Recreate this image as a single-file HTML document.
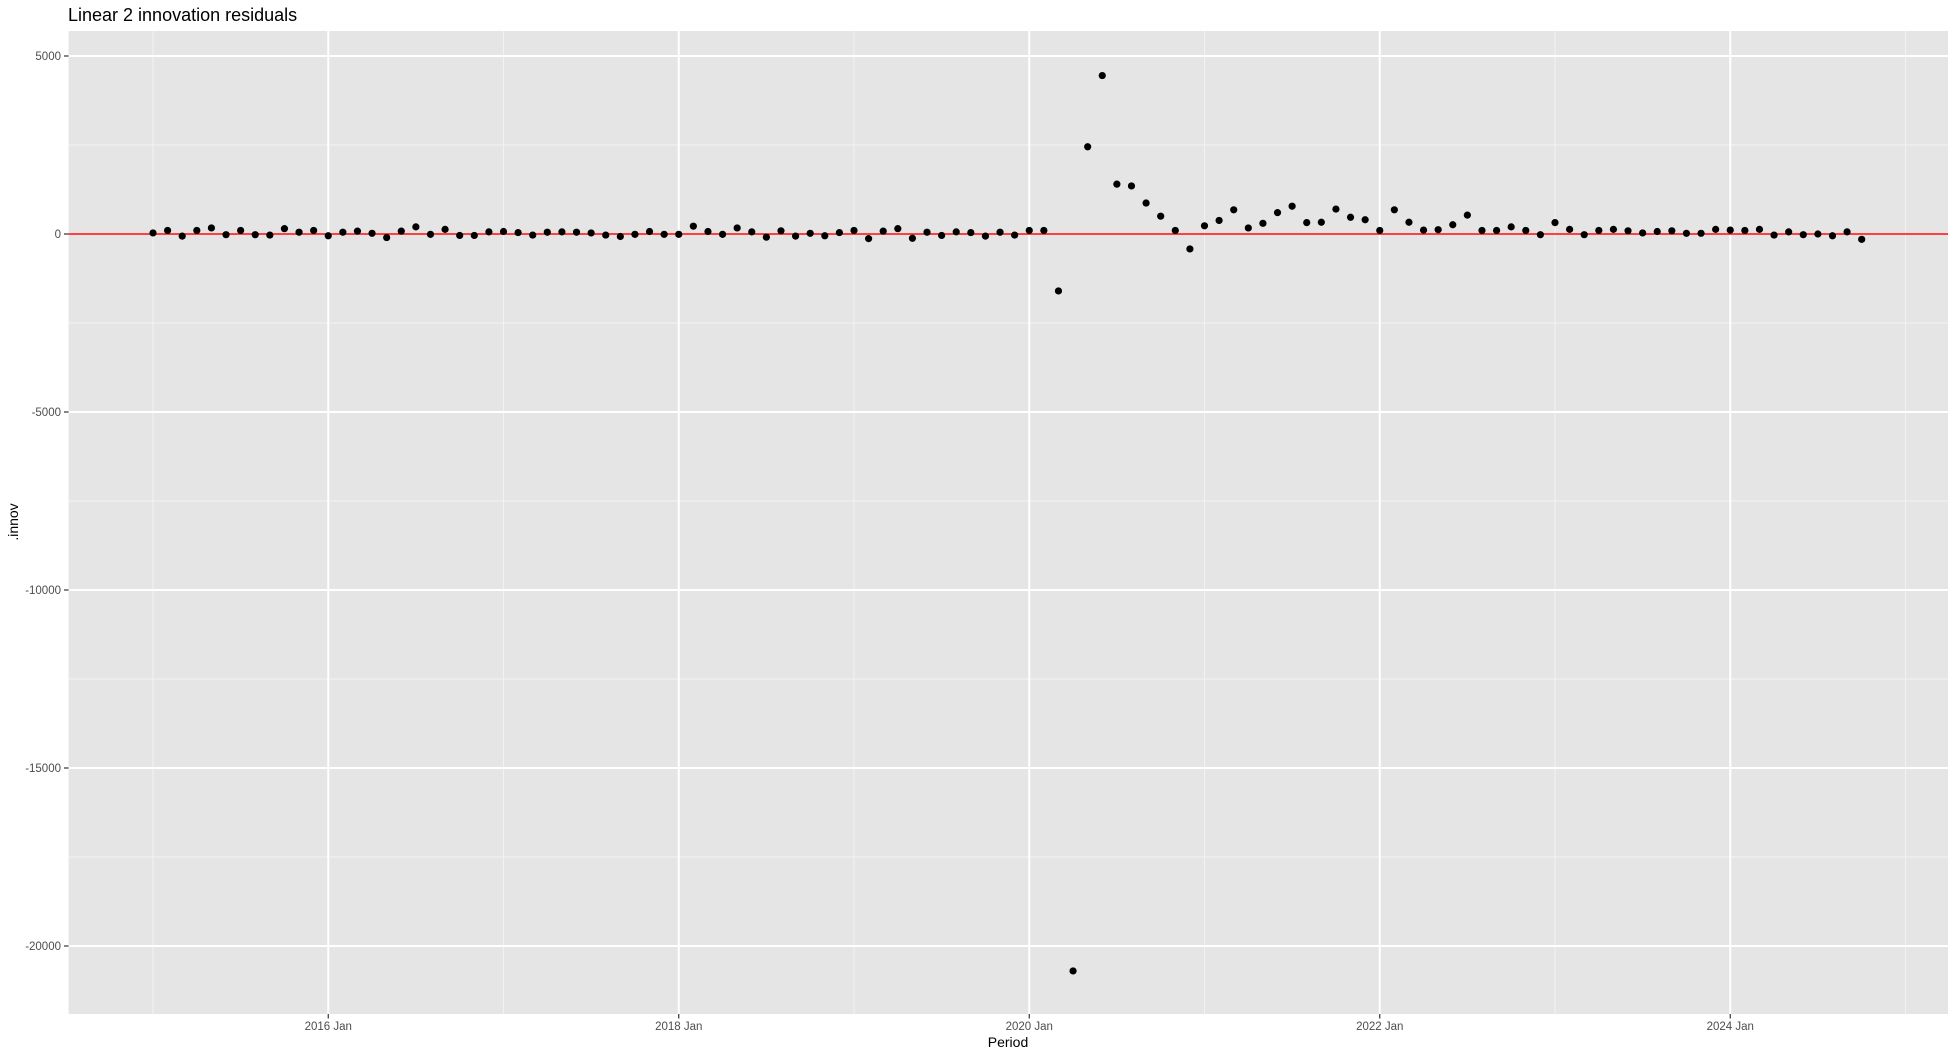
<!DOCTYPE html>
<html><head><meta charset="utf-8"><style>
body{margin:0;background:#fff;font-family:"Liberation Sans",Arial,sans-serif}
svg text{font-family:"Liberation Sans",Arial,sans-serif}
</style></head><body>
<svg id="chart" width="1956" height="1057" xmlns="http://www.w3.org/2000/svg">
<rect width="1956" height="1057" fill="#fff"/>
<text x="68" y="21" font-size="18" fill="#000">Linear 2 innovation residuals</text>
<rect x="68.6" y="31" width="1879.4" height="983" fill="#e5e5e5"/>
<g id="grid"></g>
<line x1="68.6" x2="1948" y1="234" y2="234" stroke="#ff0000" stroke-width="1.5"/>
<g id="points"></g>
<g id="axes"></g>
<text transform="translate(18,522) rotate(-90)" text-anchor="middle" font-size="14" fill="#000">.innov</text>
<text x="1008" y="1047" text-anchor="middle" font-size="14" fill="#000">Period</text>
</svg>
<script>
const startYear = 2015;
const values = [30,100,-60,100,170,-20,100,-20,-30,150,50,100,
-50,50,80,20,-100,80,200,-10,130,-40,-40,60,
70,40,-30,50,60,50,30,-30,-70,-10,70,-10,
-10,220,70,-10,170,60,-90,90,-60,20,-50,40,
100,-130,80,150,-120,50,-40,60,40,-60,50,-30,
100,100,-1600,-20700,2450,4450,1400,1350,870,500,100,-420,
230,380,680,170,300,600,780,320,330,700,470,400,
100,680,330,110,120,260,530,100,100,200,100,-20,
320,130,-20,100,130,90,30,70,90,20,20,130,
110,100,130,-30,60,-20,0,-50,60,-150];
const yTicks = [5000,0,-5000,-10000,-15000,-20000];
const yMinor = [2500,-2500,-7500,-12500,-17500];
const xTickYears = [2016,2018,2020,2022,2024];
const xMinorYears = [2015,2017,2019,2021,2023,2025];

const NS="http://www.w3.org/2000/svg";
function y(v){return 234 - v*178/5000;}
function x(monthsFrom2015){return 153 + monthsFrom2015*350.5/24;}
function xYear(yr){return x((yr-startYear)*12);}
function mk(t,a,p){const e=document.createElementNS(NS,t);for(const k in a)e.setAttribute(k,a[k]);p.appendChild(e);return e;}
const grid=document.getElementById('grid'),pts=document.getElementById('points'),axes=document.getElementById('axes');
yMinor.forEach(v=>{const l=mk('line',{x1:68.6,x2:1948,y1:y(v),y2:y(v),stroke:'#f2f2f2','stroke-width':1},grid);

});
xMinorYears.forEach(v=>{const l=mk('line',{x1:xYear(v),x2:xYear(v),y1:31,y2:1014,stroke:'#f2f2f2','stroke-width':1},grid);

});
yTicks.forEach(v=>{const l=mk('line',{x1:68.6,x2:1948,y1:y(v),y2:y(v),stroke:'#fff','stroke-width':2},grid);


const t=mk('line',{x1:64,x2:68.6,y1:y(v),y2:y(v),stroke:'#333','stroke-width':1.2},axes);


const tx=mk('text',{x:61,y:y(v)+4,'text-anchor':'end','font-size':11.5,fill:'#4d4d4d'},axes);tx.textContent=v;

});
xTickYears.forEach(v=>{const l=mk('line',{x1:xYear(v),x2:xYear(v),y1:31,y2:1014,stroke:'#fff','stroke-width':2},grid);


const t=mk('line',{x1:xYear(v),x2:xYear(v),y1:1014,y2:1018.5,stroke:'#333','stroke-width':1.2},axes);


const tx=mk('text',{x:xYear(v),y:1030,'text-anchor':'middle','font-size':11.5,fill:'#4d4d4d'},axes);tx.textContent=v+' Jan';

});
values.forEach((v,i)=>{const c=mk('circle',{cx:x(i),cy:y(v),r:3.6,fill:'#000'},pts);

});
</script>
</body></html>
